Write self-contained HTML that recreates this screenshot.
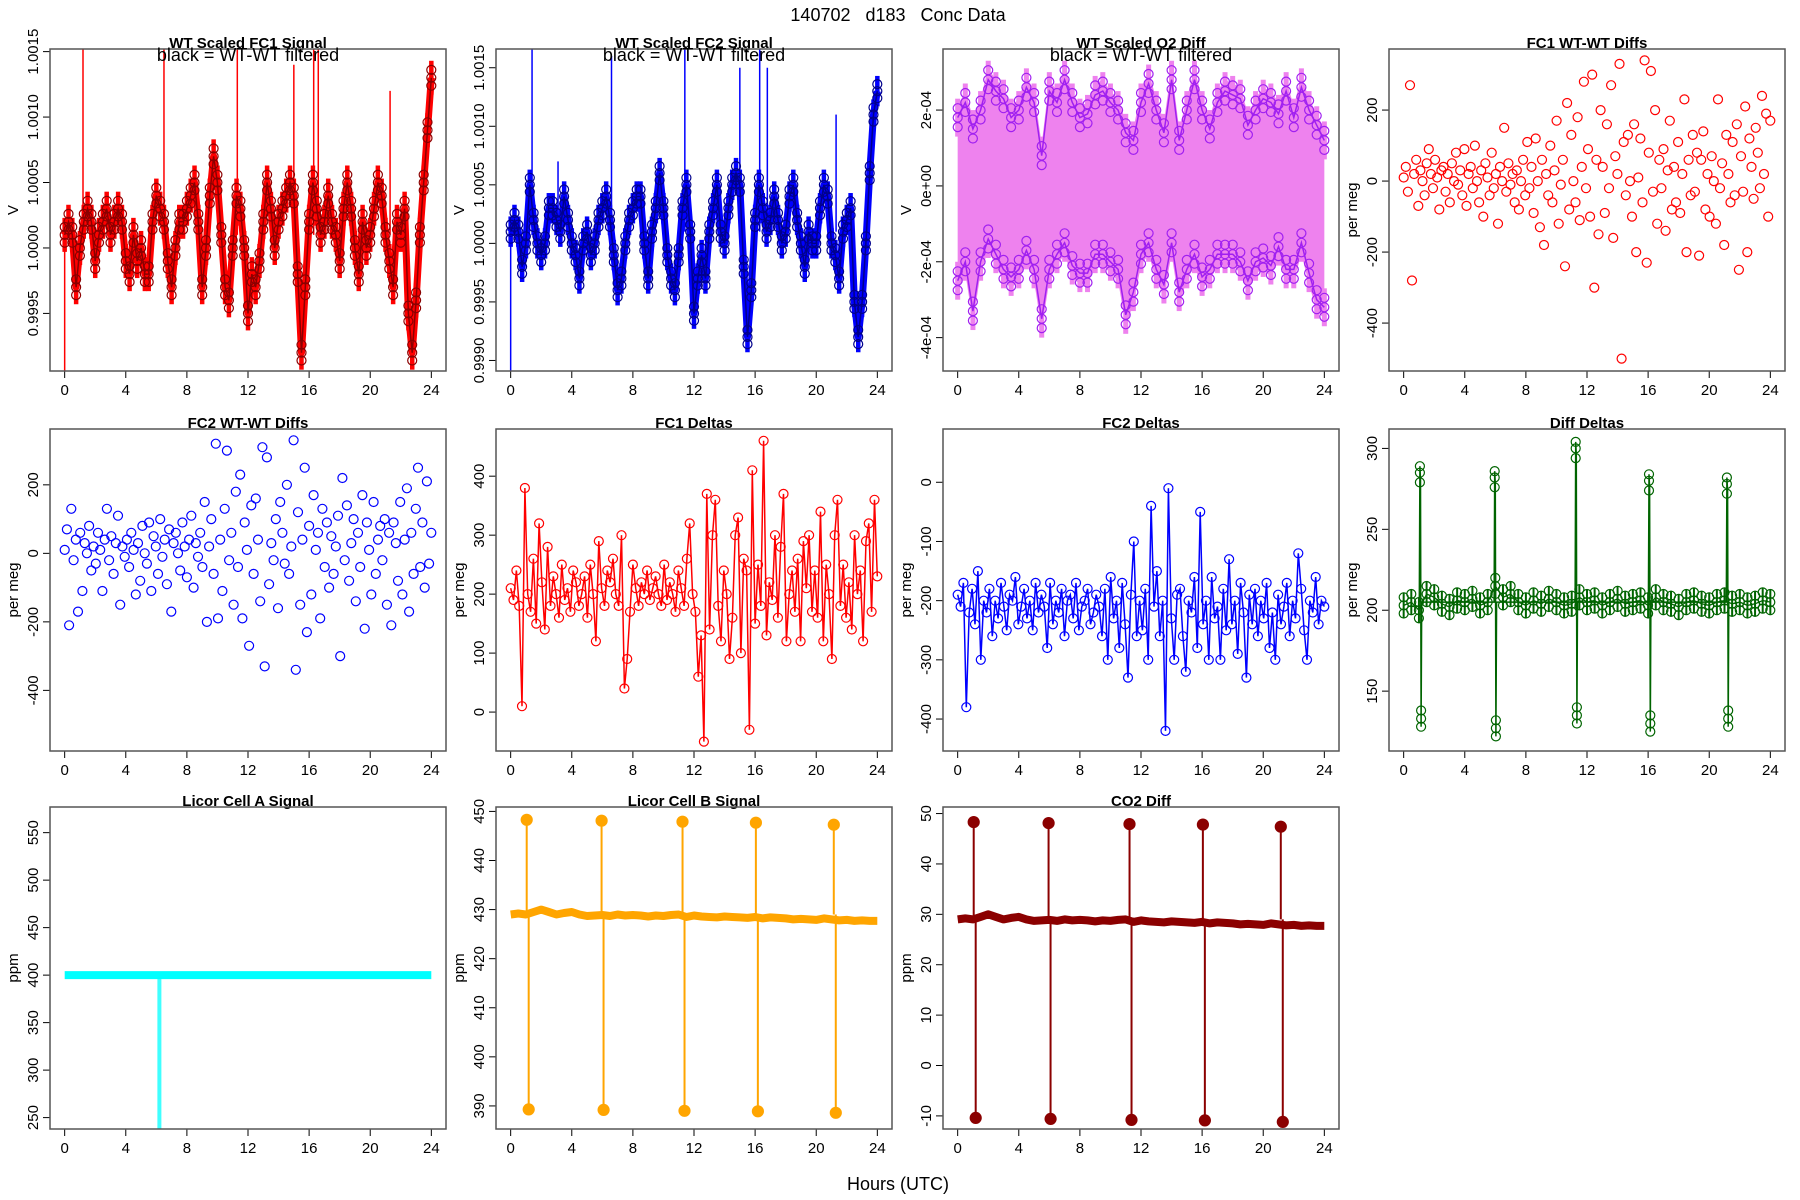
<!DOCTYPE html>
<html><head><meta charset="utf-8"><style>
html,body{margin:0;padding:0;background:#fff;}
svg{display:block;font-family:"Liberation Sans",Arial,sans-serif;}
</style></head>
<body>
<svg id="chart" width="1800" height="1200" viewBox="0 0 1800 1200" xmlns="http://www.w3.org/2000/svg">
<rect x="0" y="0" width="1800" height="1200" fill="#fff"/>
<text x="898" y="21" font-size="18" text-anchor="middle" xml:space="preserve">140702   d183   Conc Data</text>
<text x="898" y="1190" font-size="18" text-anchor="middle">Hours (UTC)</text>
</svg>
<script>
// ===== data =====
const xTicks = [0,4,8,12,16,20,24];
// FC1 signal deviations (1e-4 V) every 0.25 h
const fc1Signal = [1,2,1,-3,0,2,3,2,-1,1,2,3,1,2,3,2,-1,-2,1,-1,0,-2,-2,2,4,3,2,-1,-3,0,2,2,3,4,5,2,-3,0,4,7,5,1,-3,-4,0,4,3,0,-5,-2,-3,-1,2,5,3,0,2,3,4,5,4,-2,-8,-3,2,5,3,1,2,4,2,1,-1,3,5,3,0,-2,2,0,1,3,5,4,1,-1,-3,2,1,3,-5,-8,-4,1,5,9,13];
const fc1SpikeHours = [0.0,1.2,6.5,11.3,15.0,16.3,16.6,21.3];
const fc1SpikeVals = [-14,21,17,18,14,23,16,12];
const fc2Signal = [1,2,1,-2,0,5,2,0,-1,0,3,3,2,1,4,2,0,-1,-3,0,1,-1,0,2,3,4,2,-1,-4,-3,0,2,3,4,4,0,-3,1,3,6,3,-1,-3,-4,-1,3,5,1,-6,-3,-1,-3,1,3,5,1,0,3,5,6,5,-2,-8,-4,2,5,3,1,2,4,2,0,1,4,5,2,0,-2,1,0,0,3,5,4,0,-1,-3,1,2,3,-5,-8,-5,0,6,11,13];
const fc2SpikeHours = [0.0,1.4,3.1,6.6,11.4,15.0,16.3,16.8,21.3];
const fc2SpikeVals = [-15,22,7,16,18,15,20,15,11];
// O2 diff envelopes (1e-4 V) every 0.5 h
const o2Upper = [1.8,2.2,1.5,2.0,2.8,2.5,2.3,1.8,2.0,2.6,2.2,0.8,2.5,2.2,2.8,2.2,1.8,1.9,2.4,2.5,2.2,2.0,1.4,1.2,2.2,2.7,2.0,1.4,2.8,1.2,2.0,2.8,2.0,1.5,2.2,2.5,2.4,2.3,1.6,2.0,2.3,2.2,1.9,2.5,1.8,2.6,2.0,1.6,1.2];
const o2Lower = [-2.5,-2.0,-3.3,-2.0,-1.4,-1.8,-2.2,-2.4,-2.2,-1.7,-2.2,-3.5,-2.2,-1.8,-1.5,-2.1,-2.3,-2.3,-1.8,-1.8,-2.0,-2.2,-3.4,-2.8,-1.8,-1.5,-2.2,-2.6,-1.5,-2.8,-2.2,-1.8,-2.4,-2.2,-1.8,-1.8,-1.8,-2.0,-2.5,-2.0,-1.9,-2.1,-1.6,-2.2,-2.2,-1.5,-2.3,-3.0,-3.2];
// WT-WT diffs (per meg), evenly spaced over 0-24 h
const fc1Diffs = [10,40,-30,270,-280,20,60,-70,30,0,-40,50,90,20,-20,60,10,-80,30,40,-30,20,-60,50,0,80,-10,30,-40,90,-70,20,40,-20,100,0,-60,30,-100,50,10,-40,80,-20,20,-120,40,0,150,-30,50,-10,20,-60,30,-80,0,60,-40,110,-20,40,-90,120,0,-130,60,-180,20,-40,100,-60,30,170,-120,-10,60,-240,220,-80,130,0,-60,180,-110,40,280,-20,90,-100,300,-300,60,-150,200,40,-90,160,-20,270,-160,70,20,330,-500,110,-40,130,0,-100,160,-200,10,120,-60,340,-230,80,310,-30,200,-120,60,-20,90,-140,30,170,-80,40,-60,110,-90,20,230,-200,60,-40,130,-30,80,-210,60,140,-80,20,-100,70,0,-120,230,-20,50,-180,130,20,-60,110,-40,160,-250,70,-30,210,-200,120,40,-50,150,80,-20,240,20,190,-100,170];
const fc2Diffs = [10,70,-210,130,-20,40,-170,60,-110,30,0,80,-50,20,-30,60,10,-110,40,130,-20,50,-60,30,110,-150,20,-10,40,-40,60,10,-120,30,-80,80,0,-30,90,-110,50,20,-60,100,-10,40,-90,70,-170,30,60,0,-50,90,20,-70,40,110,-100,30,-10,60,-40,150,-200,20,100,-60,320,-190,40,-110,130,300,-20,60,-150,180,-40,230,-190,90,10,-270,140,-60,160,40,-140,310,-330,280,-90,30,-20,100,-160,150,60,-30,200,-60,20,330,-340,120,-150,40,250,-230,80,-120,170,10,60,-190,130,-40,90,-100,50,-60,20,110,-300,220,-20,140,-80,30,100,-140,60,-40,170,-220,90,10,-120,150,-60,40,80,-20,100,-150,60,-210,90,30,-80,150,-120,40,190,-170,60,-60,130,250,-40,90,-100,210,-30,60];
// FC1 / FC2 deltas (per meg), evenly spaced
const fc1Deltas = [210,190,240,180,10,380,200,170,260,150,320,220,140,280,180,230,200,160,250,190,210,170,240,220,180,200,230,160,250,200,120,290,210,180,240,220,260,200,180,300,40,90,170,250,210,180,220,200,240,190,210,230,200,180,250,190,220,200,170,240,210,180,260,320,200,170,60,130,-50,370,140,300,360,180,120,240,200,90,160,300,330,100,260,240,-30,410,150,250,180,460,130,220,190,300,160,280,370,120,200,240,170,260,120,290,210,300,170,240,160,340,120,250,200,90,300,360,180,250,160,220,140,300,200,240,120,290,320,170,360,230];
const fc2Deltas = [-190,-210,-170,-380,-220,-180,-240,-150,-300,-200,-220,-180,-260,-200,-230,-170,-210,-250,-190,-200,-160,-240,-210,-180,-230,-200,-250,-170,-220,-190,-210,-280,-170,-240,-200,-220,-180,-260,-200,-190,-230,-170,-250,-210,-200,-180,-240,-220,-190,-210,-260,-180,-300,-160,-230,-200,-280,-170,-240,-330,-190,-100,-260,-200,-250,-180,-300,-40,-210,-150,-260,-200,-420,-10,-230,-300,-190,-180,-260,-320,-200,-220,-160,-280,-50,-240,-200,-300,-160,-230,-210,-300,-180,-250,-130,-240,-200,-290,-170,-220,-330,-190,-240,-180,-260,-200,-230,-170,-280,-220,-300,-190,-240,-210,-170,-260,-200,-230,-120,-180,-250,-300,-200,-220,-160,-240,-200,-210];
// Diff deltas baseline every 0.5 h, plus calibration spikes
const diffDeltas = [203,205,200,210,208,204,202,206,205,207,203,205,215,208,210,205,203,206,204,207,205,203,204,208,205,206,203,205,207,204,205,206,203,208,205,204,202,205,206,204,203,205,206,204,205,203,204,206,205];
const calHours = [1.1,6.0,11.3,16.1,21.2];
const diffSpikeHigh = [289,286,304,284,282];
const diffSpikeLow = [128,122,130,125,128];
// Licor
const cellA = [400,400,400,400,400,400,400,400,400,400,400,400,400,400,400,400,400,400,400,400,400,400,400,400,400];
const cellADropHour = 6.2;
const cellB = [429,429.2,429,429.5,430,429.5,429,429.3,429.5,429,428.7,428.8,428.9,428.7,429,428.8,428.9,428.8,428.6,428.8,428.7,428.9,429,428.5,428.8,428.6,428.5,428.4,428.6,428.5,428.4,428.3,428.5,428.2,428.4,428.3,428.2,428,428.1,428,427.9,428.2,428,427.8,427.9,427.7,427.8,427.7,427.7];
const cellBHigh = [448.3,448.1,447.9,447.7,447.3];
const cellBLow = [389.3,389.2,389.0,388.9,388.6];
const co2Diff = [29,29.2,29,29.5,30,29.5,29,29.3,29.5,29,28.7,28.8,28.9,28.7,29,28.8,28.9,28.8,28.6,28.8,28.7,28.9,29,28.5,28.8,28.6,28.5,28.4,28.6,28.5,28.4,28.3,28.5,28.2,28.4,28.3,28.2,28,28.1,28,27.9,28.2,28,27.8,27.9,27.7,27.8,27.7,27.7];
const co2High = [48.3,48.1,47.9,47.8,47.4];
const co2Low = [-10.4,-10.6,-10.8,-10.9,-11.2];

// ===== drawing =====
const NS = "http://www.w3.org/2000/svg";
const svg = document.getElementById('chart');
const lefts = [50,496,943,1389], tops = [49,429,807], W = 396, H = 322;
function mk(tag, attrs, parent){
  const e = document.createElementNS(NS, tag);
  for (const k in attrs) e.setAttribute(k, attrs[k]);
  (parent||svg).appendChild(e);
  return e;
}
function evenHours(n){ const a=[]; for(let i=0;i<n;i++) a.push(24*i/(n-1)); return a; }

function panel(col,row,title,yMin,yMax,yTicks,yLabels,ylab,name,black){
  const L=lefts[col], T=tops[row];
  const g = mk('g',{});
  
  
  const sx = h => L + (h+0.96)/25.92*W;
  const sy = v => T + H - (v-yMin)/(yMax-yMin)*H;
  const clipId = 'clip-'+name;
  const cp = mk('clipPath',{id:clipId},g);
  mk('rect',{x:L,y:T,width:W,height:H},cp);
  const plot = mk('g',{'clip-path':'url(#'+clipId+')'},g);
  
  
  const xa = mk('g',{},g);
  
  
  mk('line',{x1:sx(xTicks[0]),x2:sx(xTicks[xTicks.length-1]),y1:T+H,y2:T+H,stroke:'#000'},xa);
  xTicks.forEach(t=>{
    mk('line',{x1:sx(t),x2:sx(t),y1:T+H,y2:T+H+7,stroke:'#000'},xa);
    const tx = mk('text',{x:sx(t),y:T+H+24,'font-size':15,'text-anchor':'middle'},xa);
    tx.textContent = t;
    
    
  });
  const ya = mk('g',{},g);
  
  
  mk('line',{x1:L,x2:L,y1:sy(yTicks[0]),y2:sy(yTicks[yTicks.length-1]),stroke:'#000'},ya);
  yTicks.forEach((t,i)=>{
    const y=sy(t);
    mk('line',{x1:L-7,x2:L,y1:y,y2:y,stroke:'#000'},ya);
    const tx = mk('text',{x:L-12,y:y,'font-size':15,'text-anchor':'middle',transform:'rotate(-90 '+(L-12)+' '+y+')'},ya);
    tx.textContent = yLabels[i];
    
    
  });
  const yl = mk('text',{x:L-32,y:T+H/2,'font-size':15,'text-anchor':'middle',transform:'rotate(-90 '+(L-32)+' '+(T+H/2)+')'},g);
  yl.textContent = ylab;
  
  
  const tt = mk('text',{x:L+W/2,y:T-1,'font-size':15,'font-weight':'bold','text-anchor':'middle'},g);
  tt.textContent = title;
  
  
  const box = mk('rect',{x:L,y:T,width:W,height:H,fill:'none',stroke:'#555','stroke-width':1.5},g);
  
  
  if (black){
    const bt = mk('text',{x:L+W/2,y:T+12,'font-size':18,'text-anchor':'middle'},g);
    bt.textContent = 'black = WT-WT filtered';
    
    
  }
  return {sx,sy,plot,g};
}
function poly(p,xs,ys,attrs,name){
  const pts = xs.map((x,i)=>p.sx(x).toFixed(1)+','+p.sy(ys[i]).toFixed(1)).join(' ');
  const a = Object.assign({points:pts,fill:'none'},attrs);
  const e = mk('polyline',a,p.plot);
  
  
  return e;
}
function circles(p,xs,ys,color,name,r,fill){
  const g = mk('g',{},p.plot);
  
  
  xs.forEach((x,i)=>{
    const c = mk('circle',{cx:p.sx(x).toFixed(1),cy:p.sy(ys[i]).toFixed(1),r:r||4.5,fill:fill||'none',stroke:color,'stroke-width':1.2},g);
    
    
  });
}
function spikes(p,hours,vals,base,color,name,w){
  const g = mk('g',{},p.plot);
  
  
  hours.forEach((h,i)=>{
    const l = mk('line',{x1:p.sx(h),x2:p.sx(h),y1:p.sy(base),y2:p.sy(vals[i]),stroke:color,'stroke-width':w||1.5},g);
    
    
  });
}
function errbars(p,xs,ys,half,color,name,w){
  const g = mk('g',{},p.plot);
  
  
  xs.forEach((x,i)=>{
    const l = mk('line',{x1:p.sx(x),x2:p.sx(x),y1:p.sy(ys[i]-half),y2:p.sy(ys[i]+half),stroke:color,'stroke-width':w||4},g);
    
    
  });
}
function signalPanel(p,series,spH,spV,bright,dark,pre){
  const hs = evenHours(series.length);
  const v = series.map(d=>1+d*1e-4);
  spikes(p,spH,spV.map(d=>1+d*1e-4),1.0001,bright,pre+'-spikes');
  errbars(p,hs,v,1.3e-4,bright,pre+'-noise-bars',4.5);
  poly(p,hs,v,{stroke:bright,'stroke-width':7,'stroke-linejoin':'round'},pre+'-band');
  poly(p,hs,v,{stroke:dark,'stroke-width':1.5},pre+'-line');
  circles(p,hs,v.map(x=>x+0.6e-4),dark,pre+'-points-upper');
  circles(p,hs,v,dark,pre+'-points');
  circles(p,hs,v.map(x=>x-0.6e-4),dark,pre+'-points-lower');
}

// Panel 1: FC1 signal
{
  const p = panel(0,0,'WT Scaled FC1 Signal',0.99906,1.00152,[0.9995,1.0,1.0005,1.001,1.0015],['0.9995','1.0000','1.0005','1.0010','1.0015'],'V','fc1-signal',true);
  signalPanel(p,fc1Signal,fc1SpikeHours,fc1SpikeVals,'#ff0000','#8b0000','fc1-signal');
}
// Panel 2: FC2 signal
{
  const p = panel(1,0,'WT Scaled FC2 Signal',0.99891,1.00166,[0.999,0.9995,1.0,1.0005,1.001,1.0015],['0.9990','0.9995','1.0000','1.0005','1.0010','1.0015'],'V','fc2-signal',true);
  signalPanel(p,fc2Signal,fc2SpikeHours,fc2SpikeVals,'#0000ff','#00008b','fc2-signal');
}
// Panel 3: O2 diff
{
  const p = panel(2,0,'WT Scaled O2 Diff',-4.88e-4,3.61e-4,[-4e-4,-2e-4,0,2e-4],['-4e-04','-2e-04','0e+00','2e-04'],'V','o2-diff',true);
  const hs = evenHours(o2Upper.length);
  const up = o2Upper.map(d=>d*1e-4), lo = o2Lower.map(d=>d*1e-4);
  const pts = hs.map((h,i)=>p.sx(h)+','+p.sy(up[i]+0.3e-4)).concat(hs.slice().reverse().map((h,j)=>{const i=hs.length-1-j;return p.sx(h)+','+p.sy(lo[i]-0.3e-4);})).join(' ');
  const band = mk('polygon',{points:pts,fill:'#ee82ee'},p.plot);
  
  
  errbars(p,hs,up,0.5e-4,'#ee82ee','o2-upper-noise',5);
  errbars(p,hs,lo,0.5e-4,'#ee82ee','o2-lower-noise',5);
  poly(p,hs,up,{stroke:'#a020f0','stroke-width':1.5},'o2-upper-line');
  poly(p,hs,lo,{stroke:'#a020f0','stroke-width':1.5},'o2-lower-line');
  circles(p,hs,up,'#a020f0','o2-upper-points');
  circles(p,hs,up.map(x=>x+0.25e-4),'#a020f0','o2-upper-points-hi');
  circles(p,hs,up.map(x=>x-0.25e-4),'#a020f0','o2-upper-points-lo');
  circles(p,hs,lo,'#a020f0','o2-lower-points');
  circles(p,hs,lo.map(x=>x+0.25e-4),'#a020f0','o2-lower-points-hi');
  circles(p,hs,lo.map(x=>x-0.25e-4),'#a020f0','o2-lower-points-lo');
}
// Panel 4: FC1 WT-WT diffs
{
  const p = panel(3,0,'FC1 WT-WT Diffs',-535,372,[-400,-200,0,200],['-400','-200','0','200'],'per meg','fc1-wtwt-diffs',false);
  circles(p,evenHours(fc1Diffs.length),fc1Diffs,'#ff0000','fc1-wtwt-points');
}
// Panel 5: FC2 WT-WT diffs
{
  const p = panel(0,1,'FC2 WT-WT Diffs',-577,363,[-400,-200,0,200],['-400','-200','0','200'],'per meg','fc2-wtwt-diffs',false);
  circles(p,evenHours(fc2Diffs.length),fc2Diffs,'#0000ff','fc2-wtwt-points');
}
// Panel 6: FC1 deltas
{
  const p = panel(1,1,'FC1 Deltas',-66,480,[0,100,200,300,400],['0','100','200','300','400'],'per meg','fc1-deltas',false);
  const hs = evenHours(fc1Deltas.length);
  poly(p,hs,fc1Deltas,{stroke:'#ff0000','stroke-width':1.5},'fc1-deltas-line');
  circles(p,hs,fc1Deltas,'#ff0000','fc1-deltas-points');
}
// Panel 7: FC2 deltas
{
  const p = panel(2,1,'FC2 Deltas',-454,90,[-400,-300,-200,-100,0],['-400','-300','-200','-100','0'],'per meg','fc2-deltas',false);
  const hs = evenHours(fc2Deltas.length);
  poly(p,hs,fc2Deltas,{stroke:'#0000ff','stroke-width':1.5},'fc2-deltas-line');
  circles(p,hs,fc2Deltas,'#0000ff','fc2-deltas-points');
}
// Panel 8: Diff deltas
{
  const p = panel(3,1,'Diff Deltas',113,312,[150,200,250,300],['150','200','250','300'],'per meg','diff-deltas',false);
  const hs = evenHours(diffDeltas.length);
  errbars(p,hs,diffDeltas,8,'#006400','diff-deltas-noise',2);
  poly(p,hs,diffDeltas,{stroke:'#006400','stroke-width':1.3},'diff-deltas-line');
  circles(p,hs,diffDeltas,'#006400','diff-deltas-points');
  circles(p,hs,diffDeltas.map(v=>v+5),'#006400','diff-deltas-points-hi');
  circles(p,hs,diffDeltas.map(v=>v-5),'#006400','diff-deltas-points-lo');
  const sh=[],sv=[];
  calHours.forEach((h,i)=>{ sh.push(h-0.08,h-0.04,h,h+0.04,h+0.08); sv.push(205,diffSpikeHigh[i],diffSpikeHigh[i]-8,diffSpikeLow[i],205); });
  poly(p,sh,sv,{stroke:'#006400','stroke-width':1.5},'diff-deltas-spikes');
  const ch=[],cv=[];
  calHours.forEach((h,i)=>{ ch.push(h-0.04,h-0.04,h-0.04,h+0.04,h+0.04,h+0.04); cv.push(diffSpikeHigh[i],diffSpikeHigh[i]-4,diffSpikeHigh[i]-10,diffSpikeLow[i],diffSpikeLow[i]+5,diffSpikeLow[i]+10); });
  circles(p,ch,cv,'#006400','diff-spike-points');
}
// Panel 9: Licor Cell A
{
  const p = panel(0,2,'Licor Cell A Signal',238,577,[250,300,350,400,450,500,550],['250','300','350','400','450','500','550'],'ppm','licor-cell-a',false);
  spikes(p,[cellADropHour],[200],400,'#40ffff','cell-a-drop',4);
  poly(p,evenHours(cellA.length),cellA,{stroke:'#00ffff','stroke-width':8},'cell-a-line');
}
// Panel 10: Licor Cell B
{
  const p = panel(1,2,'Licor Cell B Signal',385.3,450.9,[390,400,410,420,430,440,450],['390','400','410','420','430','440','450'],'ppm','licor-cell-b',false);
  const hs = evenHours(cellB.length);
  spikes(p,calHours.map(h=>h-0.05),cellBHigh,429,'#ffa500','cell-b-up-spikes',2);
  spikes(p,calHours.map(h=>h+0.08),cellBLow,429,'#ffa500','cell-b-down-spikes',2);
  poly(p,hs,cellB,{stroke:'#ffa500','stroke-width':8,'stroke-linejoin':'round'},'cell-b-line');
  circles(p,calHours.map(h=>h-0.05),cellBHigh,'#ffa500','cell-b-high-points',5.5,'#ffa500');
  circles(p,calHours.map(h=>h+0.08),cellBLow,'#ffa500','cell-b-low-points',5.5,'#ffa500');
}
// Panel 11: CO2 diff
{
  const p = panel(2,2,'CO2 Diff',-12.6,51.3,[-10,0,10,20,30,40,50],['-10','0','10','20','30','40','50'],'ppm','co2-diff',false);
  const hs = evenHours(co2Diff.length);
  spikes(p,calHours.map(h=>h-0.05),co2High,29,'#8b0000','co2-up-spikes',2);
  spikes(p,calHours.map(h=>h+0.08),co2Low,29,'#8b0000','co2-down-spikes',2);
  poly(p,hs,co2Diff,{stroke:'#8b0000','stroke-width':8,'stroke-linejoin':'round'},'co2-diff-line');
  circles(p,calHours.map(h=>h-0.05),co2High,'#8b0000','co2-high-points',5.5,'#8b0000');
  circles(p,calHours.map(h=>h+0.08),co2Low,'#8b0000','co2-low-points',5.5,'#8b0000');
}
</script>
</body></html>
